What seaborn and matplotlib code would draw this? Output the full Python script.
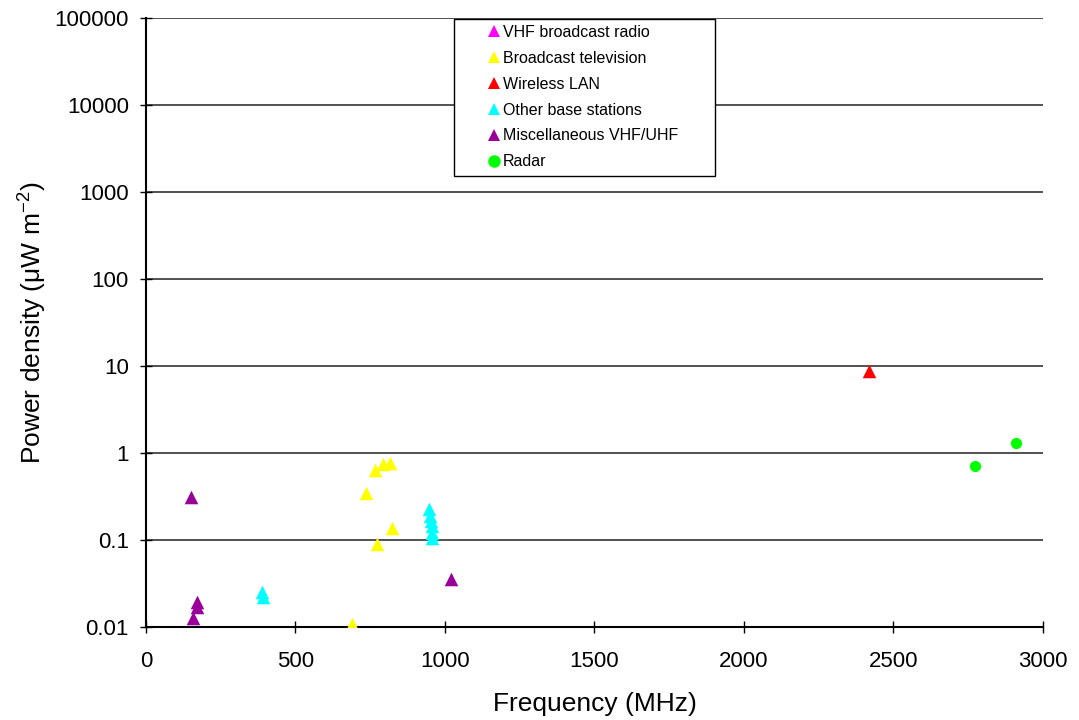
import pandas as pd
import matplotlib
matplotlib.use('Agg')
import matplotlib.pyplot as plt
import seaborn as sns
from matplotlib.lines import Line2D
from matplotlib.patches import Rectangle
from matplotlib.ticker import FixedLocator, FixedFormatter, NullLocator

# Values
series_names = ['VHF broadcast radio', 'Broadcast television', 'Wireless LAN',
                'Other base stations', 'Miscellaneous VHF/UHF', 'Radar']
series_colors = ['#FF00FF', '#FFFF00', '#FF0000', '#00FFFF', '#990099', '#00FF00']
series_markers = ['^', '^', '^', '^', '^', 'o']

vhf_freq = []
vhf_power = []
tv_freq = [689, 736, 766, 793, 816, 773, 823]
tv_power = [0.011, 0.35, 0.64, 0.75, 0.76, 0.09, 0.137]
wlan_freq = [2418]
wlan_power = [8.8]
base_freq = [388, 391, 946, 950, 953, 955, 956, 956]
base_power = [0.025, 0.022, 0.227, 0.19, 0.166, 0.145, 0.12, 0.106]
misc_freq = [150, 170, 171, 157, 1020]
misc_power = [0.31, 0.0195, 0.017, 0.0127, 0.036]
radar_freq = [2772, 2910]
radar_power = [0.71, 1.30]

y_ticks = [0.01, 0.1, 1, 10, 100, 1000, 10000, 100000]
y_tick_labels = ['0.01', '0.1', '1', '10', '100', '1000', '10000', '100000']
x_ticks = [0, 500, 1000, 1500, 2000, 2500, 3000]

all_freq = [vhf_freq, tv_freq, wlan_freq, base_freq, misc_freq, radar_freq]
all_power = [vhf_power, tv_power, wlan_power, base_power, misc_power, radar_power]

rows = []
for name, fr, pw in zip(series_names, all_freq, all_power):
    for f, p in zip(fr, pw):
        rows.append({'Source': name, 'Frequency': f, 'Power': p})
data = pd.DataFrame(rows)

sns.set_style('white')
plt.rcParams['font.family'] = ['Liberation Sans', 'DejaVu Sans']
plt.rcParams['mathtext.default'] = 'regular'
plt.rcParams['text.color'] = 'black'
plt.rcParams['axes.labelcolor'] = 'black'

fig = plt.figure(figsize=(10.79, 7.2), dpi=100)
ax = fig.add_axes([0.1353, 0.129, 0.8313, 0.846])

ax.set_yscale('log')
for name, color, marker in zip(series_names, series_colors, series_markers):
    sub = data[data['Source'] == name]
    if len(sub) == 0:
        continue
    sns.scatterplot(data=sub, x='Frequency', y='Power', ax=ax, color=color,
                    marker=marker, s=95 if marker == '^' else 65,
                    linewidth=0, zorder=3, legend=False)

ax.set_xlim(0, 3000)
ax.set_ylim(0.01, 100000)
ax.xaxis.set_major_locator(FixedLocator(x_ticks))
ax.yaxis.set_major_locator(FixedLocator(y_ticks))
ax.yaxis.set_major_formatter(FixedFormatter(y_tick_labels))
ax.yaxis.set_minor_locator(NullLocator())
ax.tick_params(axis='both', which='major', direction='inout', length=8.6,
               width=1, labelsize=16, colors='black',
               left=True, bottom=True)
ax.tick_params(axis='y', pad=8)
ax.tick_params(axis='x', pad=13)

ax.grid(axis='y', color='#333333', linewidth=1.2)
ax.grid(axis='x', visible=False)
ax.set_axisbelow(True)
for side in ['top', 'right']:
    ax.spines[side].set_visible(False)
for side in ['left', 'bottom']:
    ax.spines[side].set_color('black')
    ax.spines[side].set_linewidth(1.5)

ax.set_xlabel('Frequency (MHz)', fontsize=19, labelpad=14.5)
ax.set_ylabel('Power density (\u03bcW m$^{-2}$)', fontsize=19, labelpad=4)

# legend frame drawn separately so the padding matches the reference box
frame = Rectangle((0.3434, 0.7406), 0.291, 0.2574, transform=ax.transAxes,
                  facecolor='white', edgecolor='black', linewidth=1, zorder=4)
ax.add_patch(frame)

handles = [Line2D([], [], linestyle='none', marker=m, color=c, markersize=9,
                  markeredgewidth=0)
           for m, c in zip(series_markers, series_colors)]
leg = ax.legend(handles, series_names, loc='upper left',
                bbox_to_anchor=(0.3808, 0.9885), fontsize=11.5, frameon=False,
                handlelength=0.8, handletextpad=0.16, labelspacing=0.68,
                borderpad=0, borderaxespad=0)
leg.set_zorder(5)
for t in leg.get_texts():
    t.set_color('black')

plt.savefig('out.png', dpi=100)
